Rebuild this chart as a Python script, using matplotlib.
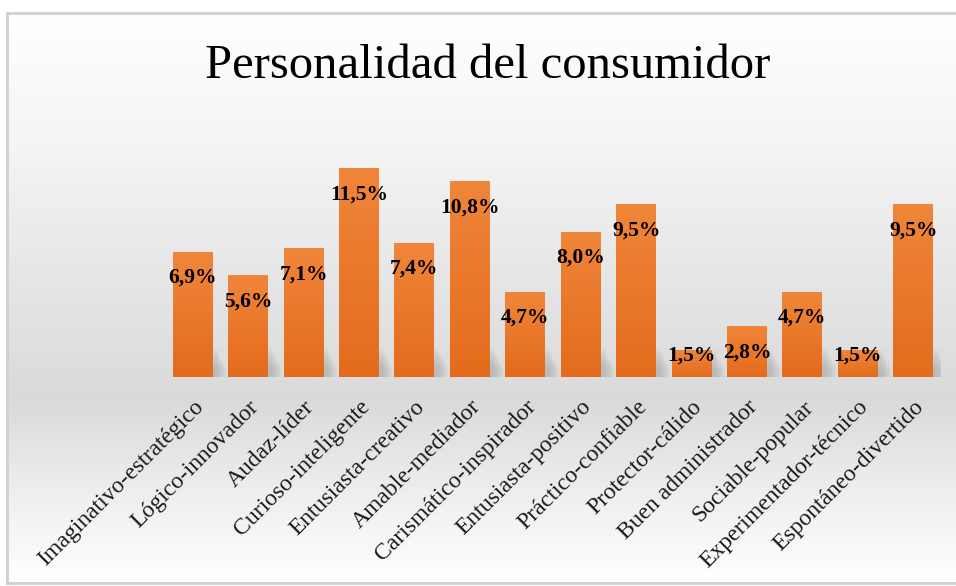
import numpy as np
import matplotlib.pyplot as plt
from matplotlib.colors import LinearSegmentedColormap

categorias = ["Imaginativo-estratégico", "Lógico-innovador", "Audaz-líder",
              "Curioso-inteligente", "Entusiasta-creativo", "Amable-mediador",
              "Carismático-inspirador", "Entusiasta-positivo", "Práctico-confiable",
              "Protector-cálido", "Buen administrador", "Sociable-popular",
              "Experimentador-técnico", "Espontáneo-divertido"]
porcentajes = [6.9, 5.6, 7.1, 11.5, 7.4, 10.8, 4.7, 8.0, 9.5, 1.5, 2.8, 4.7, 1.5, 9.5]

W, H = 956, 586
fig = plt.figure(figsize=(W / 100, H / 100), dpi=100)
fig.patch.set_facecolor("white")

# fondo del gráfico: degradado vertical blanco -> gris -> blanco
x0, y0, x1, y1 = 7, 13, W + 2, 583
bg = fig.add_axes([x0 / W, (H - y1) / H, (x1 - x0) / W, (y1 - y0) / H], zorder=0)
fondo = LinearSegmentedColormap.from_list("fondo", [
    (0.0, "#ffffff"), (0.22, "#f5f5f5"), (0.5, "#e4e4e4"),
    (0.68, "#dadada"), (0.84, "#eeeeee"), (1.0, "#ffffff")])
bg.imshow(np.linspace(0, 1, 256)[:, None], aspect="auto", cmap=fondo,
          extent=[0, 1, 0, 1], origin="upper")
bg.set_xlim(0, 1)
bg.set_ylim(0, 1)
for s in ["top", "left", "bottom"]:
    bg.spines[s].set_color("#d0d0d0")
    bg.spines[s].set_linewidth(2)
bg.spines["right"].set_visible(False)
bg.set_xticks([])
bg.set_yticks([])

fig.text(0.51, (H - 66) / H, "Personalidad del consumidor", ha="center", va="center",
         fontsize=35, family="Liberation Serif", color="black")

# área de las barras
base_y, px_por_pct = 377, 18.17
ymax = 14.0
ax = fig.add_axes([165 / W, (H - base_y) / H, 776 / W, ymax * px_por_pct / H], zorder=1)
ax.patch.set_alpha(0)
x = np.arange(len(categorias))
barras = ax.bar(x, porcentajes, width=0.72, color="#ec7a2e", zorder=2)

naranja = LinearSegmentedColormap.from_list("naranja", ["#f0863a", "#e46b1c"])
for b in barras:
    bx, bw, bh = b.get_x(), b.get_width(), b.get_height()
    # sombra suave a la derecha de la base de cada barra
    for k in range(8):
        ax.add_patch(plt.Rectangle((bx + bw * 0.1 + k * 0.025, 0), bw, min(bh, 1.6) - k * 0.15,
                                   color="#8a8a8a", alpha=0.06, lw=0, zorder=1))
    im = ax.imshow(np.linspace(0, 1, 128)[:, None], cmap=naranja, aspect="auto",
                   extent=[bx, bx + bw, 0, bh], origin="upper", zorder=2)
    im.set_clip_path(b)

for xi, v in zip(x, porcentajes):
    ax.text(xi, max(v - 1.45, 1.2), f"{v:.1f}%".replace(".", ","), ha="center", va="center",
            fontsize=15.5, fontweight="bold", family="Liberation Serif", color="black", zorder=3)

ax.set_xlim(-0.5, len(categorias) - 0.5)
ax.set_ylim(0, ymax)
ax.set_xticks(x)
ax.set_xticklabels(categorias, rotation=45, ha="right", rotation_mode="anchor",
                   fontsize=17, family="Liberation Serif", color="#1a1a1a")
ax.tick_params(axis="x", length=0, pad=14)
ax.set_yticks([])
for s in ax.spines.values():
    s.set_visible(False)

fig.savefig("out.png", dpi=100)
